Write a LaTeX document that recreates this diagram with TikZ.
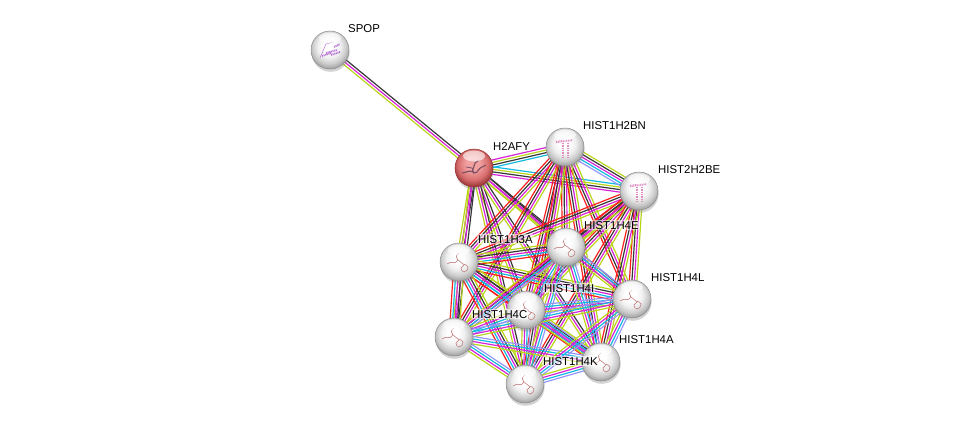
\documentclass[tikz,border=0pt]{standalone}
\usepackage{fontspec}
\setmainfont{Liberation Sans}
\usetikzlibrary{calc,shadows}
\pgfdeclarelayer{bg}
\pgfsetlayers{bg,main}
\definecolor{ctm}{RGB}{185,212,25}
\definecolor{cex}{RGB}{215,35,215}
\definecolor{cco}{RGB}{55,55,55}
\definecolor{cdb}{RGB}{20,185,225}
\definecolor{cfu}{RGB}{250,30,30}
\definecolor{cho}{RGB}{150,150,250}
\definecolor{chainc}{RGB}{190,115,115}
\definecolor{helixc}{RGB}{225,140,195}
\definecolor{spopc}{RGB}{185,115,215}
\definecolor{h2c}{RGB}{120,80,100}
\definecolor{wrim}{RGB}{140,140,140}
\definecolor{rin}{RGB}{242,160,160}
\definecolor{rmid}{RGB}{215,110,110}
\definecolor{rrim}{RGB}{150,50,50}
\pgfdeclareradialshading{wball}{\pgfpoint{-2bp}{7bp}}{color(0bp)=(white); color(7bp)=(white); color(15bp)=(black!6); color(22bp)=(black!20); color(28bp)=(black!38); color(32bp)=(black!52); color(50bp)=(black!52)}
\pgfdeclareradialshading{rball}{\pgfpoint{-2bp}{7bp}}{color(0bp)=(rin); color(9bp)=(rin); color(20bp)=(rmid); color(28bp)=(rrim); color(50bp)=(rrim)}
\newcommand\gloss{\fill[white,opacity=.6] ([yshift=-7pt]path picture bounding box.north) ellipse (11pt and 5.5pt);}
\newcommand\chainicon{%
  \draw[chainc,line width=.5pt,rounded corners=1pt]
    ([shift={(0pt,9pt)}]path picture bounding box.center) -- ++(-3pt,-3pt) -- ++(2pt,-4pt)
    -- ++(-3pt,-3pt) -- ++(-4pt,1pt) -- ++(-4pt,-2pt);
  \draw[chainc,line width=.5pt]
    ([shift={(-1pt,2pt)}]path picture bounding box.center) -- ++(5pt,-4pt)
    to[out=-30,in=90] ++(5pt,-3pt) to[out=-90,in=0] ++(-4pt,-5pt)
    to[out=180,in=-90] ++(-3pt,4pt) -- ++(3pt,3pt);}
\newcommand\helixicon{%
  \draw[helixc,line width=2.2pt,dash pattern=on 1pt off .7pt]
    ([shift={(-9pt,5pt)}]path picture bounding box.center) -- ++(16pt,2pt);
  \draw[helixc,line width=2.2pt,dash pattern=on 1pt off .7pt]
    ([shift={(-2pt,4pt)}]path picture bounding box.center) -- ++(0pt,-14pt);
  \draw[helixc,line width=2.2pt,dash pattern=on 1pt off .7pt]
    ([shift={(3pt,4pt)}]path picture bounding box.center) -- ++(0pt,-14pt);}
\newcommand\spopicon{%
  \foreach \sx/\sy/\sl in {-8/-6/9,-4/-3/11,1/-5/9,4/3/6} {
    \draw[spopc,line width=1.8pt,dash pattern=on 1pt off .7pt]
      ([shift={(\sx pt,\sy pt)}]path picture bounding box.center) -- ++(\sl pt,3pt);}
  \draw[spopc,line width=.5pt] ([shift={(-10pt,-8pt)}]path picture bounding box.center)
      -- ++(6pt,14pt) -- ++(8pt,2pt);}
\newcommand\hticon{%
  \draw[h2c,line width=1.1pt,rounded corners=1pt]
    ([shift={(-12pt,-5pt)}]path picture bounding box.center) -- ++(8pt,2pt) -- ++(6pt,-2pt)
    -- ++(4pt,5pt) -- ++(6pt,3pt);
  \draw[h2c,line width=1.1pt] ([shift={(-2pt,-4pt)}]path picture bounding box.center)
    -- ++(3pt,9pt) -- ++(4pt,3pt);
  \draw[h2c,line width=.8pt] ([shift={(-8pt,1pt)}]path picture bounding box.center)
    -- ++(6pt,-1pt) -- ++(2pt,-6pt);}
\newcommand\sedge[3]{%
  \foreach \ecol [count=\ei] in {#3} {\xdef\enumb{\ei}}%
  \foreach \ecol [count=\ei] in {#3} {%
    \pgfmathsetmacro\eoff{(\ei-(\enumb+1)/2)*2.5}%
    \draw[lnk,color=\ecol] ($(#1)!\eoff pt!90:(#2)$) -- ($(#2)!\eoff pt!-90:(#1)$);}}
\tikzset{
  lnk/.style={line width=1.2pt},
  ball/.style={circle, minimum size=38pt, inner sep=0pt, shading=wball, draw=wrim, line width=.5pt,
    drop shadow={opacity=.35, shadow xshift=.6pt, shadow yshift=-2.8pt}},
  chainball/.style={ball, path picture={\chainicon\gloss}},
  helixball/.style={ball, path picture={\helixicon\gloss}},
  spopball/.style={ball, path picture={\spopicon\gloss}},
  redball/.style={ball, shading=rball, draw=rrim, path picture={\hticon\gloss}},
  lbl/.style={anchor=base west, inner sep=1pt, rounded corners=2pt, fill=white, fill opacity=.55,
    text opacity=1, text=black, font=\fontsize{11.4}{13}\selectfont}
}
\begin{document}
\begin{tikzpicture}[x=1pt,y=-1pt]
\useasboundingbox (0,0) rectangle (976,429);
\node[spopball]  (sp) at (330,50) {};
\node[redball]   (h2) at (474,168) {};
\node[helixball] (bn) at (565,147) {};
\node[helixball] (be) at (639,191) {};
\node[chainball] (e)  at (566,247) {};
\node[chainball] (a3) at (459,262) {};
\node[chainball] (l)  at (632,299) {};
\node[chainball] (i)  at (526,310) {};
\node[chainball] (c)  at (454,337) {};
\node[chainball] (a)  at (601,362) {};
\node[chainball] (k)  at (525,384) {};
\begin{pgfonlayer}{bg}
  \sedge{sp}{h2}{ctm,cex,cco}
  \sedge{h2}{bn}{cdb,cco,ctm,cex}
  \sedge{h2}{be}{cex,cco,ctm,cdb}
  \foreach \X in {a3,e,i,c,l,a,k} {\sedge{h2}{\X}{ctm,cex,cco}}
  \sedge{bn}{be}{cho,cdb,cex,cco,ctm}
  \foreach \B in {bn,be} {\foreach \X in {a3,e,i,c,l,a,k} {\sedge{\B}{\X}{cfu,cco,cex,ctm}}}
  \foreach \X in {e,i,c,l,a,k} {\sedge{a3}{\X}{cfu,cdb,cex,cco,ctm}}
  \foreach \P/\Q in {e/i,e/c,e/l,e/a,e/k,i/c,i/l,i/a,i/k,c/l,c/a,c/k,l/a,l/k,a/k}
    {\sedge{\P}{\Q}{ctm,cex,cdb,cho}}
\end{pgfonlayer}
\node[lbl] (spL) at ($(sp)+(17,-18)$) {SPOP};
\node[lbl] (h2L) at ($(h2)+(18,-18)$) {H2AFY};
\node[lbl] (bnL) at ($(bn)+(17,-18)$) {HIST1H2BN};
\node[lbl] (beL) at ($(be)+(18,-18)$) {HIST2H2BE};
\node[lbl] (eL)  at ($(e)+(17,-18)$) {HIST1H4E};
\node[lbl] (a3L) at ($(a3)+(18,-19)$) {HIST1H3A};
\node[lbl] (lL)  at ($(l)+(18,-18)$) {HIST1H4L};
\node[lbl] (iL)  at ($(i)+(17,-18)$) {HIST1H4I};
\node[lbl] (cL)  at ($(c)+(17,-19)$) {HIST1H4C};
\node[lbl] (aL)  at ($(a)+(17,-19)$) {HIST1H4A};
\node[lbl] (kL)  at ($(k)+(17,-19)$) {HIST1H4K};
\end{tikzpicture}
\end{document}
